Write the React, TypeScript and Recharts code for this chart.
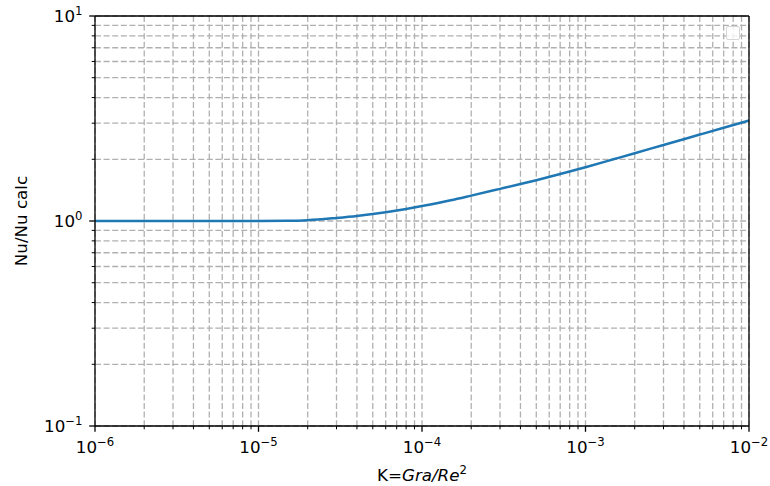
import { LineChart, Line, XAxis, YAxis, CartesianGrid, ReferenceLine, Customized } from "recharts";

// K = Gra/Re^2 and the Nu ratio
const K_VALUES = [
  1e-6, 2e-6, 5e-6, 1e-5, 1.5e-5, 2e-5, 3e-5, 4e-5, 5e-5, 6e-5, 8e-5,
  1e-4, 1.5e-4, 2e-4, 3e-4, 4e-4, 5e-4, 7e-4, 1e-3, 1.5e-3, 2e-3, 3e-3, 5e-3, 7e-3, 1e-2,
];
const NU_RATIO = [
  1.0, 1.0, 1.0, 1.0, 1.002, 1.009, 1.035, 1.058, 1.081, 1.103, 1.145,
  1.183, 1.262, 1.33, 1.435, 1.515, 1.582, 1.695, 1.83, 2.005, 2.14, 2.35, 2.64, 2.85, 3.09,
];

const X_DECADES = [-6, -5, -4, -3];
const Y_DECADES = [-1, 0];
const MANTISSAS = [1, 2, 3, 4, 5, 6, 7, 8, 9];

const logTicks = (decades: number[], last: number) => {
  const out: number[] = [];
  decades.forEach((d) => MANTISSAS.forEach((m) => out.push(m * Math.pow(10, d))));
  out.push(last);
  return out;
};

const X_TICKS = logTicks(X_DECADES, 1e-2);
const Y_TICKS = logTicks(Y_DECADES, 10);

const data = K_VALUES.map((k, i) => ({ k, nu: NU_RATIO[i] }));

const FONT = "DejaVu Sans, sans-serif";
const FS = 16.7;
const SUP = 11.7;

function expInfo(v: number) {
  const lg = Math.log10(v);
  const n = Math.round(lg);
  const major = Math.abs(lg - n) < 1e-6;
  const txt = (n < 0 ? "\u2212" : "") + Math.abs(n);
  return { major, txt };
}

function XTick(props: any) {
  const { x, y, payload } = props;
  const { major, txt } = expInfo(payload.value);
  return (
    <g>
      <line x1={x} x2={x} y1={y} y2={y + (major ? 5.8 : 3.3)} stroke="#000" strokeWidth={major ? 1.3 : 1} />
      {major && (
        <text x={x} y={y + 27} textAnchor="middle" fontSize={FS} fontFamily={FONT} fill="#000">
          10<tspan dy={-7} fontSize={SUP}>{txt}</tspan>
        </text>
      )}
    </g>
  );
}

function YTick(props: any) {
  const { x, y, payload } = props;
  const { major, txt } = expInfo(payload.value);
  return (
    <g>
      <line x1={x} x2={x - (major ? 5.8 : 3.3)} y1={y} y2={y} stroke="#000" strokeWidth={major ? 1.3 : 1} />
      {major && (
        <text x={x - 12.5} y={y + 6} textAnchor="end" fontSize={FS} fontFamily={FONT} fill="#000">
          10<tspan dy={-7} fontSize={SUP}>{txt}</tspan>
        </text>
      )}
    </g>
  );
}

function AxisTitles() {
  return (
    <g fontFamily={FONT} fontSize={FS} fill="#000">
      <text x={422} y={481} textAnchor="middle">
        K=<tspan fontStyle="italic">Gra/Re</tspan>
        <tspan dy={-7} fontSize={SUP}>2</tspan>
      </text>
      <text transform="translate(27,221) rotate(-90)" textAnchor="middle">
        Nu/Nu calc
      </text>
    </g>
  );
}

export default function App() {
  return (
    <div style={{ position: "absolute", left: 0, top: 0, width: 770, height: 486, background: "#fff" }}>
      <LineChart width={770} height={486} data={data} margin={{ top: 16, right: 21, left: 0, bottom: 0 }}>
        <CartesianGrid stroke="#b0b0b0" strokeWidth={1.3} strokeDasharray="6 2.6" />
        <XAxis
          dataKey="k"
          type="number"
          scale="log"
          domain={[1e-6, 1e-2]}
          allowDataOverflow
          ticks={X_TICKS}
          interval={0}
          height={60}
          tickSize={0}
          tickMargin={0}
          tickLine={false}
          tick={<XTick />}
          axisLine={{ stroke: "#000", strokeWidth: 1.3 }}
        />
        <YAxis
          type="number"
          scale="log"
          domain={[0.1, 10]}
          allowDataOverflow
          ticks={Y_TICKS}
          interval={0}
          width={95}
          tickSize={0}
          tickMargin={0}
          tickLine={false}
          tick={<YTick />}
          axisLine={{ stroke: "#000", strokeWidth: 1.3 }}
        />
        <Line
          type="monotone"
          dataKey="nu"
          stroke="#1f77b4"
          strokeWidth={2.5}
          dot={false}
          activeDot={false}
          isAnimationActive={false}
        />
        <ReferenceLine y={10} stroke="#000" strokeWidth={1.3} />
        <ReferenceLine x={1e-2} stroke="#000" strokeWidth={1.3} />
        <Customized component={AxisTitles} />
      </LineChart>
      <div
        style={{
          position: "absolute",
          left: 726,
          top: 26,
          width: 12,
          height: 12,
          border: "1px solid #d6d6d6",
          borderRadius: 2,
          background: "rgba(255,255,255,0.8)",
        }}
      />
    </div>
  );
}
